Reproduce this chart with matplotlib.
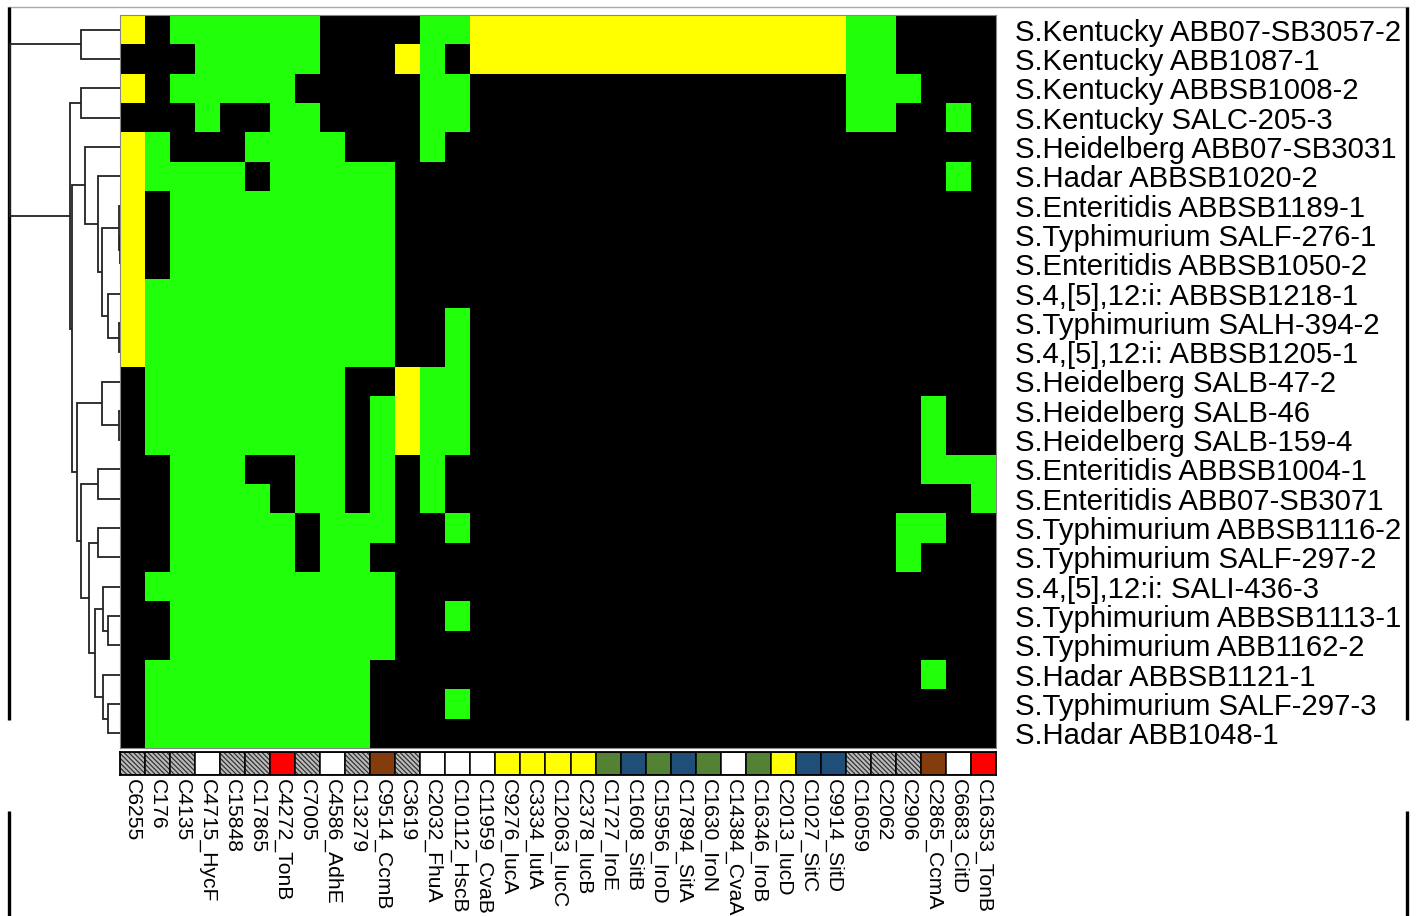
import numpy as np
import matplotlib
matplotlib.use("Agg")
import matplotlib.pyplot as plt
from matplotlib.colors import ListedColormap
from matplotlib.patches import Rectangle

plt.rcParams['font.family'] = ['Liberation Sans', 'DejaVu Sans']
plt.rcParams['hatch.linewidth'] = 0.9

# ---------------------------------------------------------------- data
strains = [
    "S.Kentucky ABB07-SB3057-2", "S.Kentucky ABB1087-1", "S.Kentucky ABBSB1008-2",
    "S.Kentucky SALC-205-3", "S.Heidelberg ABB07-SB3031", "S.Hadar ABBSB1020-2",
    "S.Enteritidis ABBSB1189-1", "S.Typhimurium SALF-276-1", "S.Enteritidis ABBSB1050-2",
    "S.4,[5],12:i: ABBSB1218-1", "S.Typhimurium SALH-394-2", "S.4,[5],12:i: ABBSB1205-1",
    "S.Heidelberg SALB-47-2", "S.Heidelberg SALB-46", "S.Heidelberg SALB-159-4",
    "S.Enteritidis ABBSB1004-1", "S.Enteritidis ABB07-SB3071", "S.Typhimurium ABBSB1116-2",
    "S.Typhimurium SALF-297-2", "S.4,[5],12:i: SALI-436-3", "S.Typhimurium ABBSB1113-1",
    "S.Typhimurium ABB1162-2", "S.Hadar ABBSB1121-1", "S.Typhimurium SALF-297-3",
    "S.Hadar ABB1048-1",
]

genes = [
    "C6255", "C176", "C4135", "C4715_HycF", "C15848", "C17865", "C4272_TonB",
    "C7005", "C4586_AdhE", "C13279", "C9514_CcmB", "C3619", "C2032_FhuA",
    "C10112_HscB", "C11959_CvaB", "C9276_IucA", "C3334_IutA", "C12063_IucC",
    "C2378_IucB", "C1727_IroE", "C1608_SitB", "C15956_IroD", "C17894_SitA",
    "C1630_IroN", "C14384_CvaA", "C16346_IroB", "C2013_IucD", "C1027_SitC",
    "C9914_SitD", "C16059", "C2062", "C2906", "C2865_CcmA", "C6683_CitD",
    "C16353_TonB",
]

# functional class of each gene (colour strip under the matrix)
gene_class = [
    "unk", "unk", "unk", "white", "unk", "unk", "red", "unk", "white", "unk",
    "brown", "unk", "white", "white", "white", "yellow", "yellow", "yellow",
    "yellow", "green", "blue", "green", "blue", "green", "white", "green",
    "yellow", "blue", "blue", "unk", "unk", "unk", "brown", "white", "red",
]

# gene profile per strain: B = absent, G = present, Y = present (plasmid)
profile = [
    "YBGGGGGGBBBBGGYYYYYYYYYYYYYYYGGBBBB",
    "BBBGGGGGBBBYGBYYYYYYYYYYYYYYYGGBBBB",
    "YBGGGGGBBBBBGGBBBBBBBBBBBBBBBGGGBBB",
    "BBBGBBGGBBBBGGBBBBBBBBBBBBBBBGGBBGB",
    "YGBBBGGGGBBBGBBBBBBBBBBBBBBBBBBBBBB",
    "YGGGGBGGGGGBBBBBBBBBBBBBBBBBBBBBBGB",
    "YBGGGGGGGGGBBBBBBBBBBBBBBBBBBBBBBBB",
    "YBGGGGGGGGGBBBBBBBBBBBBBBBBBBBBBBBB",
    "YBGGGGGGGGGBBBBBBBBBBBBBBBBBBBBBBBB",
    "YGGGGGGGGGGBBBBBBBBBBBBBBBBBBBBBBBB",
    "YGGGGGGGGGGBBGBBBBBBBBBBBBBBBBBBBBB",
    "YGGGGGGGGGGBBGBBBBBBBBBBBBBBBBBBBBB",
    "BGGGGGGGGBBYGGBBBBBBBBBBBBBBBBBBBBB",
    "BGGGGGGGGBGYGGBBBBBBBBBBBBBBBBBBGBB",
    "BGGGGGGGGBGYGGBBBBBBBBBBBBBBBBBBGBB",
    "BBGGGBBGGBGBGBBBBBBBBBBBBBBBBBBBGGG",
    "BBGGGGBGGBGBGBBBBBBBBBBBBBBBBBBBBBG",
    "BBGGGGGBGGGBBGBBBBBBBBBBBBBBBBBGGBB",
    "BBGGGGGBGGBBBBBBBBBBBBBBBBBBBBBGBBB",
    "BGGGGGGGGGGBBBBBBBBBBBBBBBBBBBBBBBB",
    "BBGGGGGGGGGBBGBBBBBBBBBBBBBBBBBBBBB",
    "BBGGGGGGGGGBBBBBBBBBBBBBBBBBBBBBBBB",
    "BGGGGGGGGGBBBBBBBBBBBBBBBBBBBBBBGBB",
    "BGGGGGGGGGBBBGBBBBBBBBBBBBBBBBBBBBB",
    "BGGGGGGGGGBBBBBBBBBBBBBBBBBBBBBBBBB",
]

# hierarchical clustering of strains: (left, right, height); leaves 0..24
linkage = [
    (7, 8, 0.05),    # 25
    (6, 25, 0.07),   # 26
    (10, 11, 0.07),  # 27
    (9, 27, 1.23),   # 28
    (26, 28, 1.83),  # 29
    (5, 29, 2.23),   # 30
    (4, 30, 3.50),   # 31
    (13, 14, 0.07),  # 32
    (12, 32, 1.83),  # 33
    (15, 16, 2.23),  # 34
    (17, 18, 2.23),  # 35
    (20, 21, 1.23),  # 36
    (19, 36, 1.73),  # 37
    (23, 24, 1.23),  # 38
    (22, 38, 1.73),  # 39
    (37, 39, 2.50),  # 40
    (35, 40, 3.07),  # 41
    (34, 41, 3.90),  # 42
    (33, 42, 4.27),  # 43
    (31, 43, 4.80),  # 44
    (2, 3, 3.93),    # 45
    (45, 44, 5.00),  # 46
    (0, 1, 3.93),    # 47
    (47, 46, 11.0),  # 48
]

# ---------------------------------------------------------------- styling
W, H = 1421, 916
cell_codes = {"B": 0, "G": 1, "Y": 2}
cell_cmap = ListedColormap(["#000000", "#22FF0A", "#FFFF00"])
class_colors = {
    "white": "#FFFFFF", "red": "#FF0000", "brown": "#843C0C",
    "yellow": "#FFFF00", "green": "#548235", "blue": "#1F4E79",
}

fig = plt.figure(figsize=(W / 100, H / 100), dpi=100)
fig.patch.set_facecolor("white")


def px_axes(x0, y0, x1, y1):
    return fig.add_axes([x0 / W, 1 - y1 / H, (x1 - x0) / W, (y1 - y0) / H])


n_rows, n_cols = len(strains), len(genes)
mat = np.array([[cell_codes[c] for c in row] for row in profile])

# ---------------------------------------------------------------- heatmap
ax = px_axes(120, 15, 996, 748)
ax.imshow(mat, cmap=cell_cmap, vmin=0, vmax=2, aspect="auto",
          interpolation="nearest", extent=(0, n_cols, n_rows, 0))
ax.set_xlim(0, n_cols)
ax.set_ylim(n_rows, 0)
ax.set_xticks([])
ax.yaxis.tick_right()
ax.set_yticks(np.arange(n_rows) + 0.5)
ax.set_yticklabels(strains, fontsize=21.2)
ax.tick_params(axis="y", length=0, pad=14)
for s in ax.spines.values():
    s.set_color("#888888")
    s.set_linewidth(0.8)

# ---------------------------------------------------------------- gene class strip
axc = px_axes(120, 752, 996, 775)
axc.set_xlim(0, n_cols)
axc.set_ylim(0, 1)
for i, cls in enumerate(gene_class):
    if cls == "unk":
        axc.add_patch(Rectangle((i, 0), 1, 1, facecolor="#BBBBBB",
                                edgecolor="#333333", lw=0, hatch="\\\\\\\\\\\\\\"))
    else:
        axc.add_patch(Rectangle((i, 0), 1, 1, facecolor=class_colors[cls], lw=0))
    axc.add_patch(Rectangle((i, 0), 1, 1, fill=False, edgecolor="black", lw=1.1))
axc.set_yticks([])
axc.set_xticks(np.arange(n_cols) + 0.5)
axc.set_xticklabels(genes, rotation=270, fontsize=15.2)
axc.tick_params(axis="x", length=0, pad=3)
for s in axc.spines.values():
    s.set_linewidth(1.3)

# ---------------------------------------------------------------- dendrogram
axd = px_axes(0, 15, 120, 748)
axd.set_xlim(12, 0)
axd.set_ylim(n_rows, 0)
axd.axis("off")


def draw(node):
    if node < n_rows:
        return node + 0.5, 0.0
    left, right, h = linkage[node - n_rows]
    yl, hl = draw(left)
    yr, hr = draw(right)
    axd.plot([hl, h, h, hr], [yl, yl, yr, yr], color="#222222", lw=1.3,
             solid_capstyle="butt", solid_joinstyle="miter")
    return (yl + yr) / 2, h


draw(n_rows + len(linkage) - 1)

# ---------------------------------------------------------------- frame lines
axf = fig.add_axes([0, 0, 1, 1], zorder=-1)
axf.set_xlim(0, W)
axf.set_ylim(H, 0)
axf.axis("off")
axf.plot([8, 1408], [7, 7], color="#AAAAAA", lw=1.0)
for x in (9, 1407):
    axf.plot([x, x], [7, 720], color="black", lw=2.4, solid_capstyle="butt")
    axf.plot([x, x], [811, 916], color="black", lw=2.4, solid_capstyle="butt")

fig.savefig("out.png", dpi=100, facecolor="white")
